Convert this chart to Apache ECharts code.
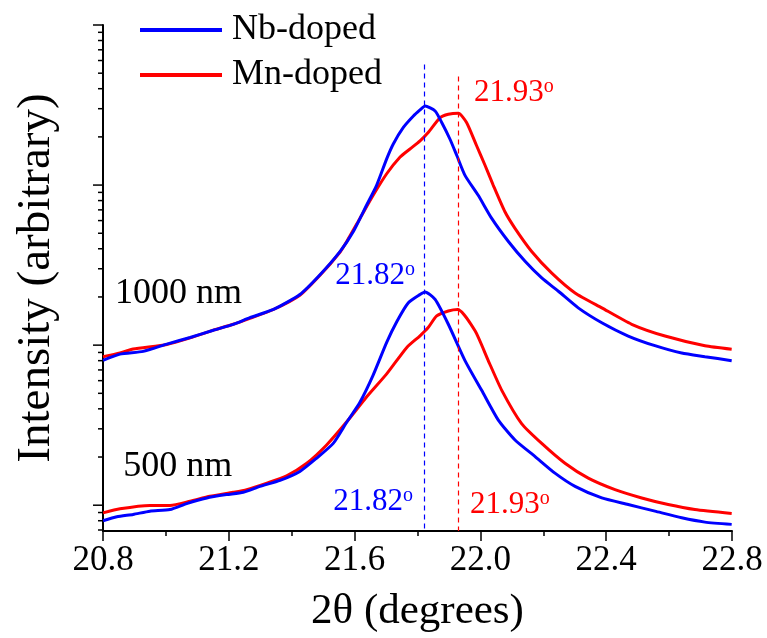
<!DOCTYPE html>
<html><head><meta charset="utf-8">
<script src="https://cdn.jsdelivr.net/npm/echarts@6/dist/echarts.min.js"></script>
<style>html,body{margin:0;padding:0;background:#fff}#chart{width:767px;height:638px}</style>
</head><body><div id="chart"></div>
<script>
const FONT = "'Liberation Serif','Times New Roman',serif";
const BLUE = '#0000ff', RED = '#ff0000';

// Nb-doped, 1000 nm
const nb1000X = [20.800, 20.854, 20.928, 21.003, 21.077, 21.151, 21.214, 21.267, 21.342, 21.426, 21.490, 21.554, 21.596, 21.638, 21.670, 21.702, 21.723, 21.755, 21.787, 21.808, 21.824, 21.856, 21.877, 21.903, 21.925, 21.951, 21.993, 22.036, 22.089, 22.142, 22.195, 22.248, 22.311, 22.386, 22.470, 22.555, 22.640, 22.714, 22.799];
const nb1000Y = [8.04, 8.79, 9.14, 10.15, 11.16, 12.39, 13.49, 14.85, 16.72, 20.7, 27.5, 38.5, 51.2, 74.8, 99.6, 145.8, 180.6, 229, 270, 294.5, 312, 290, 246, 194, 153, 115, 86.3, 61.9, 44.4, 33.4, 26.3, 21.7, 17.1, 13.8, 11.4, 9.92, 8.92, 8.47, 8.00];
// Mn-doped, 1000 nm
const mn1000X = [20.800, 20.854, 20.896, 21.003, 21.077, 21.151, 21.214, 21.267, 21.342, 21.426, 21.490, 21.554, 21.575, 21.617, 21.659, 21.702, 21.744, 21.776, 21.808, 21.834, 21.872, 21.898, 21.930, 21.956, 21.988, 22.015, 22.041, 22.078, 22.110, 22.163, 22.227, 22.301, 22.386, 22.481, 22.587, 22.714, 22.799];
const mn1000Y = [8.47, 8.95, 9.45, 10.1, 11.1, 12.4, 13.5, 14.7, 16.7, 20.5, 27.3, 38.2, 44.4, 61.9, 86.3, 117.7, 149.4, 168, 189, 213, 264, 277, 281, 246, 176, 132.5, 99.6, 68.1, 53.7, 38.5, 28.2, 21.2, 17.1, 13.5, 11.4, 9.92, 9.44];
// Nb-doped, 500 nm
const nb500X = [20.800, 20.844, 20.896, 20.949, 21.013, 21.066, 21.130, 21.193, 21.246, 21.299, 21.363, 21.426, 21.479, 21.532, 21.575, 21.617, 21.659, 21.702, 21.734, 21.771, 21.808, 21.824, 21.856, 21.898, 21.951, 22.004, 22.057, 22.110, 22.174, 22.237, 22.301, 22.386, 22.470, 22.555, 22.640, 22.714, 22.799];
const nb500Y = [0.80, 0.846, 0.876, 0.918, 0.940, 1.024, 1.110, 1.165, 1.204, 1.311, 1.429, 1.625, 1.965, 2.433, 3.3, 4.4, 6.5, 10.4, 14.0, 18.4, 20.7, 21.5, 19.3, 13.5, 8.01, 5.22, 3.40, 2.555, 2.013, 1.586, 1.311, 1.110, 1.010, 0.918, 0.834, 0.784, 0.759];
// Mn-doped, 500 nm
const mn500X = [20.800, 20.854, 20.949, 21.013, 21.077, 21.140, 21.214, 21.257, 21.321, 21.384, 21.448, 21.511, 21.575, 21.638, 21.702, 21.766, 21.808, 21.834, 21.861, 21.898, 21.928, 21.983, 22.025, 22.068, 22.131, 22.195, 22.269, 22.343, 22.428, 22.513, 22.597, 22.682, 22.799];
const mn500Y = [0.896, 0.949, 0.996, 0.996, 1.059, 1.137, 1.204, 1.251, 1.375, 1.528, 1.829, 2.378, 3.318, 4.74, 6.61, 9.68, 11.44, 12.88, 15.22, 16.35, 16.72, 12.29, 8.01, 5.22, 3.237, 2.433, 1.829, 1.476, 1.251, 1.110, 1.010, 0.940, 0.888];

// axes
const xMin = 20.8, xMax = 22.8, xStep = 0.4;
const yMin = 0.69, yMax = 1000;
const yMajorTicks = [1, 10, 100, 1000];
const yTickValues = [0.7, 0.8, 0.9, 1, 2, 3, 4, 5, 6, 7, 8, 9, 10, 20, 30, 40, 50, 60, 70, 80, 90, 100, 200, 300, 400, 500, 600, 700, 800, 900, 1000];

// peak markers
const peakNb = 21.82, peakNbTop = 566;
const peakMn = 21.93, peakMnTop = 477;

// annotations
const annoText  = ['21.82', '21.82', '21.93', '21.93', '1000 nm', '500 nm'];
const annoX     = [21.792, 21.786, 21.980, 21.967, 20.838, 20.864];
const annoY     = [27.0, 1.044, 379, 1.0, 20.9, 1.745];
const annoColor = [BLUE, BLUE, RED, RED, '#000', '#000'];
const annoAlign = ['right', 'right', 'left', 'left', 'left', 'left'];
const annoDeg   = [true, true, true, true, false, false];

const zip = (xs, ys) => xs.map((x, i) => [x, ys[i]]);

const chart = echarts.init(document.getElementById('chart'), null, {renderer: 'canvas'});

function curve(name, color, xs, ys, extra) {
  return Object.assign({
    name, type: 'line', data: zip(xs, ys), showSymbol: false, symbol: 'none', smooth: 0.2,
    lineStyle: {color, width: 3}, itemStyle: {color}, z: 3
  }, extra || {});
}

function vline(x, top, color) {
  return {
    silent: true, symbol: ['none', 'none'], label: {show: false},
    lineStyle: {color, type: [5, 4], width: 1.2},
    data: [[{coord: [x, top]}, {coord: [x, yMin]}]]
  };
}

chart.setOption({
  animation: false,
  backgroundColor: '#fff',
  grid: {left: 103, right: 35, top: 25, bottom: 103},
  legend: {
    data: ['Nb-doped', 'Mn-doped'], orient: 'vertical', left: 135, top: 7,
    icon: 'rect', itemWidth: 82, itemHeight: 4, itemGap: 9,
    textStyle: {fontFamily: FONT, fontSize: 36, lineHeight: 36, color: '#000', padding: [0, 0, 0, 5]}
  },
  xAxis: {
    type: 'value', min: xMin, max: xMax, interval: xStep,
    name: '2θ (degrees)', nameLocation: 'middle', nameGap: 59,
    nameTextStyle: {fontFamily: FONT, fontSize: 43, color: '#000'},
    axisLine: {lineStyle: {color: '#000', width: 2}},
    axisTick: {length: 10, lineStyle: {color: '#000', width: 1.5}},
    minorTick: {show: true, splitNumber: 2, length: 5, lineStyle: {color: '#000', width: 1.5}},
    splitLine: {show: false}, minorSplitLine: {show: false},
    axisLabel: {fontFamily: FONT, fontSize: 35, color: '#000', margin: 12, showMinLabel: true, showMaxLabel: true,
      formatter: v => v.toFixed(1)}
  },
  yAxis: {
    type: 'log', logBase: 10, min: yMin, max: yMax,
    name: 'Intensity (arbitrary)', nameLocation: 'middle', nameGap: 43,
    nameTextStyle: {fontFamily: FONT, fontSize: 47, color: '#000'},
    axisLine: {show: true, lineStyle: {color: '#000', width: 2}},
    axisTick: {show: false}, axisLabel: {show: false}, splitLine: {show: false}
  },
  series: [
    curve('Mn-doped', RED, mn1000X, mn1000Y, {markLine: vline(peakMn, peakMnTop, RED)}),
    curve('Mn-doped', RED, mn500X, mn500Y),
    curve('Nb-doped', BLUE, nb1000X, nb1000Y, {markLine: vline(peakNb, peakNbTop, BLUE)}),
    curve('Nb-doped', BLUE, nb500X, nb500Y),
    {
      name: 'yticks', type: 'custom', silent: true, clip: false, z: 5,
      data: yTickValues.map(v => [xMin, v]),
      renderItem: (params, api) => {
        const v = api.value(1);
        const p = api.coord([xMin, v]);
        const len = yMajorTicks.includes(v) ? 10 : 5;
        return {type: 'line', shape: {x1: p[0], y1: p[1], x2: p[0] - len, y2: p[1]},
          style: {stroke: '#000', lineWidth: 1.5}};
      }
    },
    {
      name: 'annotations', type: 'custom', silent: true, clip: false, z: 6,
      data: annoX.map((x, i) => [x, annoY[i]]),
      renderItem: (params, api) => {
        const i = params.dataIndex;
        const p = api.coord([api.value(0), api.value(1)]);
        const c = annoColor[i];
        const isDeg = annoDeg[i];
        return {
          type: 'text', x: p[0], y: p[1],
          style: {
            text: isDeg ? '{n|' + annoText[i] + '}{s|o}' : annoText[i],
            rich: {
              n: {fontFamily: FONT, fontSize: 31, fill: c, lineHeight: 32},
              s: {fontFamily: FONT, fontSize: 20, fill: c, verticalAlign: 'top'}
            },
            fill: c, fontFamily: FONT, fontSize: 36,
            align: annoAlign[i], verticalAlign: 'middle'
          }
        };
      }
    }
  ]
});
</script></body></html>
